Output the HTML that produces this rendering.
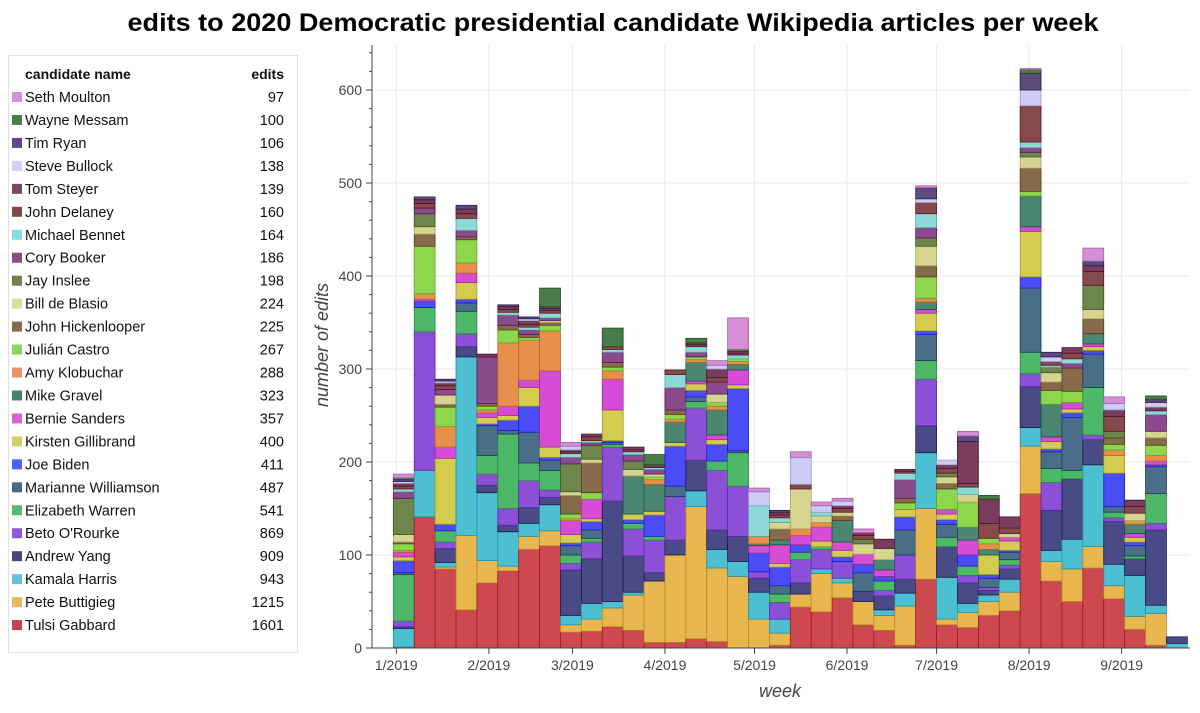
<!DOCTYPE html>
<html><head><meta charset="utf-8"><style>
html,body{margin:0;padding:0;background:#fff;}
svg{display:block;font-family:"Liberation Sans",Arial,sans-serif;}
</style></head><body>
<svg id="chart" width="1200" height="713" viewBox="0 0 1200 713">
<text x="613" y="31" text-anchor="middle" font-size="25" font-weight="bold" textLength="971" lengthAdjust="spacingAndGlyphs" fill="#000">edits to 2020 Democratic presidential candidate Wikipedia articles per week</text>
<rect x="8.5" y="55.5" width="289" height="597" fill="#fff" stroke="#e0e0e0"/>
<g id="legend"></g>
<g id="grid"></g>
<g id="bars"></g>
<g id="axes"></g>
<text x="780" y="697" text-anchor="middle" font-size="18" font-style="italic" fill="#444">week</text>
<text transform="translate(328,345) rotate(-90)" text-anchor="middle" font-size="18" font-style="italic" fill="#444">number of edits</text>
</svg>
<script>
const names = ["Tulsi Gabbard","Pete Buttigieg","Kamala Harris","Andrew Yang","Beto O'Rourke","Elizabeth Warren","Marianne Williamson","Joe Biden","Kirsten Gillibrand","Bernie Sanders","Mike Gravel","Amy Klobuchar","Julián Castro","John Hickenlooper","Bill de Blasio","Jay Inslee","Cory Booker","Michael Bennet","John Delaney","Tom Steyer","Steve Bullock","Tim Ryan","Wayne Messam","Seth Moulton"];
const totals = [1601,1215,943,909,869,541,487,411,400,357,323,288,267,225,224,198,186,164,160,139,138,106,100,97];
const gabbard = [1,141,85,41,70,83,106,110,17,18,23,19,6,6,10,7,0,0,3,44,39,54,25,19,3,74,25,22,35,40,166,72,50,86,53,20,3,0];
const buttigieg = [0,0,2,80,24,5,14,16,8,13,20,38,66,94,142,79,77,31,13,14,41,16,25,16,42,76,6,16,15,20,51,21,35,23,14,14,34,0];
const harris = [20,50,5,192,73,37,14,28,10,17,7,3,0,0,17,20,16,29,15,0,5,5,0,6,14,60,45,10,7,14,20,12,32,88,23,44,9,5];
const yang = [2,0,15,11,8,7,17,8,49,48,108,39,9,16,33,21,27,15,0,12,0,0,11,15,15,29,33,22,5,11,44,43,65,27,46,18,81,7];
const orourke = [6,149,7,14,12,18,29,8,7,18,58,29,35,47,56,64,54,7,18,25,21,18,0,6,26,50,0,8,3,4,14,30,0,5,4,0,7,0];
const warren = [50,26,12,24,20,80,19,21,9,4,3,6,4,0,7,10,36,0,9,8,3,0,0,10,0,20,10,10,0,6,23,15,9,51,6,3,32,0];
const williamson = [2,0,0,9,32,4,33,11,10,9,2,0,0,11,5,0,2,0,9,0,0,0,20,0,27,28,14,0,10,8,69,18,57,36,6,11,29,0];
const biden = [13,7,7,4,2,11,28,3,3,9,2,4,23,43,7,18,67,20,20,8,0,5,9,5,14,4,5,12,4,2,12,3,5,4,36,4,2,0];
const gillibrand = [4,0,71,18,7,5,20,11,9,3,33,6,4,4,7,5,4,0,4,0,6,7,0,0,8,19,6,0,21,10,49,8,4,4,19,5,0,0];
const sanders = [5,2,12,10,5,10,8,82,15,21,33,0,0,0,3,5,16,8,20,10,15,9,11,7,0,4,5,16,0,4,5,5,7,3,0,4,4,0];
const gravel = [0,0,0,0,0,0,0,0,0,0,0,41,29,22,20,27,6,2,5,0,0,23,0,11,0,8,0,14,6,0,33,35,0,11,0,10,0,0];
const klobuchar = [2,6,22,11,3,68,43,43,2,0,9,0,5,3,3,4,3,8,0,7,5,0,0,0,0,4,0,0,6,0,0,0,0,0,6,4,6,0];
const castro = [7,51,21,25,4,14,3,6,5,7,4,0,3,5,3,4,3,0,0,0,0,0,0,0,7,23,22,27,6,0,5,15,12,0,6,0,11,0];
const hickenlooper = [2,13,3,3,3,5,3,3,20,32,5,0,0,5,0,0,0,0,12,0,0,5,0,0,5,12,6,0,0,0,25,9,25,16,7,0,8,0];
const deblasio = [8,8,10,0,0,0,0,2,4,4,0,7,3,0,0,9,0,0,7,43,7,4,11,12,0,21,7,8,0,4,12,10,0,10,0,8,7,0];
const inslee = [39,14,0,0,0,0,0,0,30,15,0,9,0,0,0,0,0,0,0,0,0,0,5,0,0,9,4,0,0,0,5,6,0,26,7,0,0,0];
const booker = [7,6,6,7,50,11,5,3,7,3,11,7,5,24,5,13,0,0,0,0,0,0,0,0,20,11,0,0,0,0,5,0,5,0,0,0,18,0];
const bennet = [3,0,0,13,0,3,3,5,4,2,3,3,2,14,6,0,4,33,5,0,4,0,0,0,7,15,0,8,0,0,6,2,5,0,0,0,4,0];
const delaney = [3,5,4,5,0,3,3,3,2,4,3,2,0,5,2,5,2,0,3,5,0,4,4,0,2,12,5,4,16,6,39,4,6,15,16,7,0,0];
const steyer = [3,4,3,5,3,3,4,2,2,3,0,3,3,0,2,9,2,0,3,0,0,3,3,10,2,0,4,45,26,12,0,0,6,6,7,7,4,0];
const bullock = [2,0,2,0,0,0,2,0,4,0,0,0,0,0,0,4,0,15,0,29,7,5,0,0,0,4,5,0,0,0,17,5,0,0,7,0,5,0];
const ryan = [2,3,2,4,0,2,2,2,0,0,0,0,0,0,0,0,0,0,2,0,0,0,0,0,0,12,0,6,0,0,18,5,0,5,0,0,3,0];
const messam = [2,0,0,0,0,0,0,20,0,0,20,0,11,0,5,0,2,0,0,0,0,0,0,0,0,0,0,0,4,0,4,0,0,0,0,0,4,0];
const moulton = [4,0,0,0,0,0,0,0,4,0,0,0,0,0,0,5,34,4,0,6,4,3,4,0,0,2,0,5,0,0,1,0,0,14,7,0,0,0];
const yTicks = [0,100,200,300,400,500,600];
const xTickLabels = ["1/2019","2/2019","3/2019","4/2019","5/2019","6/2019","7/2019","8/2019","9/2019"];
const xTickDays = [0,31,59,90,120,151,181,212,243];

const series = [gabbard,buttigieg,harris,yang,orourke,warren,williamson,biden,gillibrand,sanders,gravel,klobuchar,castro,hickenlooper,deblasio,inslee,booker,bennet,delaney,steyer,bullock,ryan,messam,moulton];
const fills = ["#cc4a4f","#e8b84e","#4cc0d0","#4a4a86","#8b50d6","#4cb868","#4a6e88","#4a4cf6","#d4cc4e","#d64cd4","#4a8670","#e6904c","#8ed64c","#866a4a","#d6d48e","#6e864c","#8a4a8c","#8ed8d8","#864a4c","#7a3c5c","#ccccf6","#5c4a7c","#4a7c4a","#d68ed6"];
const legendColors = ["#b0001a","#e0a030","#30b0c8","#0a0a50","#6a20d0","#20a040","#083858","#1030f0","#c8c030","#c830c8","#08583a","#e07030","#60c830","#583c10","#d0d080","#3c5810","#601060","#60d0d0","#580a0a","#4c0a2c","#c0c0f8","#2c0a5c","#085808","#c070c8"];
const strokes = ["#9a1a22","#b88a2a","#2a92a2","#1a1a50","#5e2aa6","#2a8a46","#1a3e56","#2020c0","#a29a2a","#a02aa0","#1a5642","#b4682a","#62a82a","#56401e","#a6a460","#40561e","#5a1a5c","#5ea8a8","#561a1e","#4c1430","#9c9cc8","#301c4e","#1a4c1a","#a660a8"];

const NS = "http://www.w3.org/2000/svg";
function mk(tag, attrs, parent){const e=document.createElementNS(NS,tag);for(const k in attrs)e.setAttribute(k,attrs[k]);parent.appendChild(e);return e;}
const plotLeft=372, plotBottom=648, plotTop=45, plotRight=1190;
function yScale(v){return plotBottom - v*0.93;}
function xDay(d){return 396.3 + d*2.985;}
const grid=document.getElementById('grid'), bars=document.getElementById('bars'), axes=document.getElementById('axes'), legend=document.getElementById('legend');

yTicks.forEach(v=>{
  if(v>0){const g=mk('line',{x1:plotLeft,x2:plotRight,y1:yScale(v),y2:yScale(v),stroke:'#e8e8e8','stroke-width':1},grid);
  
  }
  const t=mk('text',{x:362,y:yScale(v)+5,'text-anchor':'end','font-size':14,fill:'#444'},axes);
  t.textContent=String(v);
  
  
  mk('line',{x1:plotLeft-6,x2:plotLeft,y1:yScale(v),y2:yScale(v),stroke:'#444'},axes);
});
for(let v=20;v<=640;v+=20){ if(v%100) mk('line',{x1:plotLeft-3,x2:plotLeft,y1:yScale(v),y2:yScale(v),stroke:'#444'},axes); }
xTickDays.forEach((d,i)=>{
  const x=xDay(d);
  const g=mk('line',{x1:x,x2:x,y1:plotTop,y2:plotBottom,stroke:'#e8e8e8'},grid);
  
  
  mk('line',{x1:x,x2:x,y1:plotBottom,y2:plotBottom+6,stroke:'#444'},axes);
  const t=mk('text',{x:x,y:plotBottom+22,'text-anchor':'middle','font-size':14,fill:'#444'},axes);
  t.textContent=xTickLabels[i];
  
  
});
mk('line',{x1:plotLeft,x2:plotLeft,y1:plotTop,y2:plotBottom,stroke:'#444'},axes);
mk('line',{x1:plotLeft,x2:plotRight,y1:plotBottom,y2:plotBottom,stroke:'#444'},axes);

const nWeeks=gabbard.length;
for(let w=0;w<nWeeks;w++){
  let base=0;
  const x0=xDay(-1+7*w), x1=xDay(6+7*w);
  for(let s=0;s<series.length;s++){
    const v=series[s][w];
    if(!v) continue;
    const r=mk('rect',{x:x0,y:yScale(base+v),width:x1-x0,height:v*0.93,fill:fills[s],stroke:strokes[s],'stroke-width':0.8},bars);
    
    
    base+=v;
  }
}

const hdr=mk('text',{x:25,y:79,'font-size':14,'font-weight':'bold',fill:'#111'},legend);
hdr.textContent='candidate name';


const hdr2=mk('text',{x:284,y:79,'font-size':14,'font-weight':'bold','text-anchor':'end',fill:'#111'},legend);
hdr2.textContent='edits';


for(let i=0;i<names.length;i++){
  const s=names.length-1-i;
  const y=97+i*22.96;
  const sw=mk('rect',{x:12,y:y-5,width:10,height:10,fill:legendColors[s],opacity:0.75},legend);
  
  
  const t=mk('text',{x:25,y:y+5,'font-size':14.5,fill:'#111'},legend);
  t.textContent=names[s];
  
  
  const t2=mk('text',{x:284,y:y+5,'font-size':14.5,'text-anchor':'end',fill:'#111'},legend);
  t2.textContent=String(totals[s]);
  
  
}
</script>
</body></html>
